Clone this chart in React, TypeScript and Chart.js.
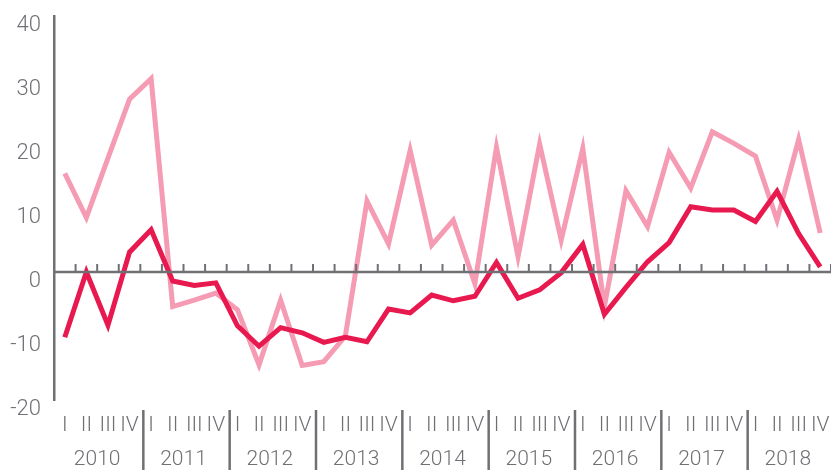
import React, { useEffect, useRef } from "react";
import { Chart, registerables } from "chart.js";

Chart.register(...registerables);

const years = ["2010", "2011", "2012", "2013", "2014", "2015", "2016", "2017", "2018"];
const quarterNames = ["I", "II", "III", "IV"];
const quarters: string[] = years.flatMap(() => quarterNames);

const lightSeries = [
  15.4, 8.5, 17.8, 27.0, 30.2, -5.4, -4.4, -3.3, -5.9, -14.5, -4.4, -14.6,
  -14.0, -10.0, 11.1, 4.4, 19.0, 4.2, 8.1, -1.8, 19.5, 2.4, 20.0, 5.0,
  19.3, -5.4, 12.7, 7.1, 18.7, 13.1, 21.9, 20.1, 18.1, 8.1, 20.7, 6.1,
];
const darkSeries = [
  -10.2, 0.0, -8.3, 3.1, 6.6, -1.4, -2.1, -1.7, -8.4, -11.6, -8.7, -9.5,
  -11.0, -10.2, -10.9, -5.8, -6.4, -3.6, -4.5, -3.8, 1.5, -4.1, -2.8, -0.1,
  4.3, -6.6, -2.4, 1.6, 4.6, 10.2, 9.7, 9.7, 7.9, 12.6, 6.0, 0.8,
];
const yTicks = [-20, -10, 0, 10, 20, 30, 40];

const GRAY = "#6f7074";
const LIGHT = "#f59bb3";
const DARK = "#e8194f";
const FONT = "Roboto";

const decorPlugin = {
  id: "decor",
  afterDatasetsDraw(chart: any) {
    const { ctx, chartArea, scales } = chart;
    const xs = scales.x;
    const ys = scales.y;
    const y0 = ys.getPixelForValue(0);
    const n = quarters.length;
    const step = (xs.getPixelForValue(n - 1) - xs.getPixelForValue(0)) / (n - 1);
    ctx.save();
    ctx.strokeStyle = GRAY;
    ctx.lineWidth = 2.5;
    ctx.beginPath();
    ctx.moveTo(chartArea.left, y0);
    ctx.lineTo(chartArea.right, y0);
    ctx.stroke();
    ctx.lineWidth = 2;
    for (let i = 1; i <= n; i++) {
      const bx = xs.getPixelForValue(i - 1) + step / 2;
      ctx.beginPath();
      ctx.moveTo(bx, y0);
      ctx.lineTo(bx, y0 - 8);
      ctx.stroke();
    }
    ctx.restore();
  },
  afterDraw(chart: any) {
    const { ctx, scales } = chart;
    const xs = scales.x;
    const n = quarters.length;
    const step = (xs.getPixelForValue(n - 1) - xs.getPixelForValue(0)) / (n - 1);
    ctx.save();
    ctx.strokeStyle = GRAY;
    ctx.lineWidth = 2.5;
    for (let k = 1; k < years.length; k++) {
      const bx = xs.getPixelForValue(k * 4 - 1) + step / 2 + 3;
      ctx.beginPath();
      ctx.moveTo(bx, xs.top + 10);
      ctx.lineTo(bx, chart.height);
      ctx.stroke();
    }
    ctx.restore();
  },
};

const fitX = (h: number) => (s: any) => {
  s.height = h;
  s.paddingLeft = 0;
  s.paddingRight = 0;
};

export default function App() {
  const canvasRef = useRef<HTMLCanvasElement | null>(null);

  useEffect(() => {
    document.body.style.margin = "0";
    const canvas = canvasRef.current;
    if (!canvas) return;
    const chart = new Chart(canvas, {
      type: "line",
      data: {
        labels: quarters,
        datasets: [
          {
            label: "dark",
            data: darkSeries,
            borderColor: DARK,
            borderWidth: 5,
            pointRadius: 0,
            tension: 0,
            fill: false,
            xAxisID: "x",
            yAxisID: "y",
          },
          {
            label: "light",
            data: lightSeries,
            borderColor: LIGHT,
            borderWidth: 5,
            pointRadius: 0,
            tension: 0,
            fill: false,
            xAxisID: "x",
            yAxisID: "y",
          },
        ],
      },
      options: {
        responsive: false,
        animation: false,
        layout: { padding: { top: 16, right: 0, bottom: 0, left: 0 } },
        plugins: {
          legend: { display: false },
          tooltip: { enabled: false },
        },
        scales: {
          x: {
            type: "category",
            position: "bottom",
            offset: true,
            grid: { display: false, drawTicks: false },
            border: { display: false },
            ticks: {
              autoSkip: false,
              maxRotation: 0,
              minRotation: 0,
              padding: 13,
              color: GRAY,
              font: { family: FONT, size: 21, weight: "300" },
            },
            afterFit: fitX(36),
          },
          x2: {
            type: "category",
            position: "bottom",
            labels: years,
            offset: true,
            grid: { display: false, drawTicks: false },
            border: { display: false },
            ticks: {
              autoSkip: false,
              maxRotation: 0,
              minRotation: 0,
              padding: 11,
              color: GRAY,
              font: { family: FONT, size: 21, weight: "300" },
            },
            afterFit: fitX(34),
          },
          y: {
            type: "linear",
            position: "left",
            min: yTicks[0],
            max: yTicks[yTicks.length - 1],
            afterBuildTicks: (s: any) => {
              s.ticks = yTicks.map((v) => ({ value: v }));
            },
            grid: { display: false, drawTicks: false },
            border: { display: true, color: GRAY, width: 2.5 },
            ticks: {
              padding: 13,
              labelOffset: 9,
              color: GRAY,
              font: { family: FONT, size: 22, weight: "300" },
            },
            afterFit: (s: any) => {
              s.width = 54;
              s.paddingTop = 0;
              s.paddingBottom = 0;
            },
          },
        },
      },
      plugins: [decorPlugin],
    });
    return () => chart.destroy();
  }, []);

  return (
    <div style={{ width: 831, height: 470 }}>
      <canvas ref={canvasRef} width={831} height={470} style={{ display: "block" }} />
    </div>
  );
}
